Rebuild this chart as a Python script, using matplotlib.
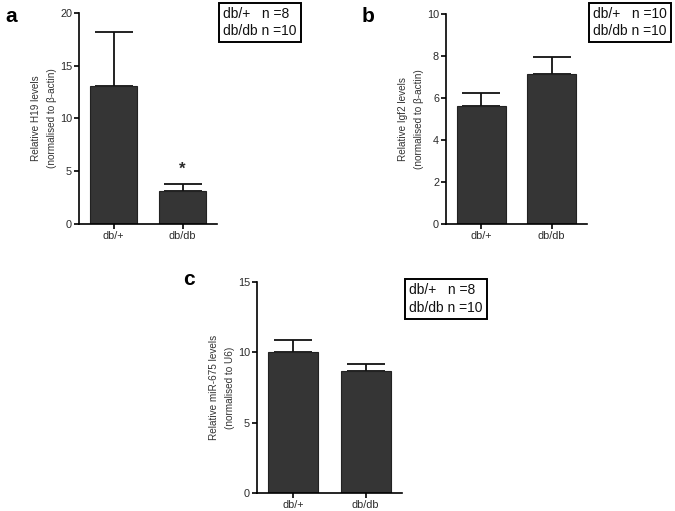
import numpy as np
import matplotlib
matplotlib.use("Agg")
from matplotlib import pyplot as plt

plt.rcParams['font.family'] = ['Liberation Sans', 'DejaVu Sans']

# DATA
groups = ['db/+', 'db/db']

h19_mean = [13.1, 3.1]
h19_sem = [5.1, 0.65]

igf2_mean = [5.6, 7.15]
igf2_sem = [0.65, 0.8]

mir675_mean = [10.0, 8.7]
mir675_sem = [0.9, 0.45]

BAR_COLOR = '#353535'
TEXT_COLOR = '#2a2a2a'


def bar_panel(ax, means, errs, ymax, ystep, ylabel):
    x = np.arange(len(means))
    ax.bar(x, means, width=0.69, color=BAR_COLOR, edgecolor='#222222', linewidth=0.8, zorder=2)
    # only the upper half of the error bars is drawn
    ax.errorbar(x, means, yerr=[np.zeros(len(errs)), errs], fmt='none',
                ecolor='#111111', elinewidth=1.3, capsize=13.5, capthick=1.3, zorder=1)
    ax.set_xlim(-0.5, 1.5)
    ax.set_ylim(0, ymax)
    ax.set_yticks(np.arange(0, ymax + 0.01, ystep))
    ax.set_xticks(x)
    ax.set_xticklabels(groups)
    ax.spines['top'].set_visible(False)
    ax.spines['right'].set_visible(False)
    for s in ('left', 'bottom'):
        ax.spines[s].set_linewidth(1.2)
    ax.tick_params(axis='both', labelsize=7.8, labelcolor=TEXT_COLOR, width=1.2, length=3.5, pad=1.5)
    ax.set_ylabel(ylabel, fontsize=7.2, color='#333333', linespacing=1.75, labelpad=2)


fig = plt.figure(figsize=(6.75, 5.11), dpi=100)
W, H = 675.0, 511.0


def add_axes(left, right, top, bottom):
    return fig.add_axes([left / W, 1 - bottom / H, (right - left) / W, (bottom - top) / H])


ax_a = add_axes(79, 217, 13, 224)
bar_panel(ax_a, h19_mean, h19_sem, 20, 5,
          'Relative H19 levels\n(normalised to \u03b2-actin)')
ax_a.text(1, h19_mean[1] + h19_sem[1] + 0.7, '*', ha='center', va='bottom',
          fontsize=12, fontweight='bold', color=TEXT_COLOR)

ax_b = add_axes(446, 587, 14, 224)
bar_panel(ax_b, igf2_mean, igf2_sem, 10, 2,
          'Relative Igf2 levels\n(normalised to \u03b2-actin)')

ax_c = add_axes(257, 402, 282, 493)
bar_panel(ax_c, mir675_mean, mir675_sem, 15, 5,
          'Relative miR-675 levels\n(normalised to U6)')

# panel letters
fig.text(5 / W, 1 - 22 / H, 'a', fontsize=15, fontweight='bold')
fig.text(362 / W, 1 - 22 / H, 'b', fontsize=15, fontweight='bold')
fig.text(183 / W, 1 - 285 / H, 'c', fontsize=15, fontweight='bold')

# n boxes
box = dict(boxstyle='square,pad=0.3', facecolor='white', edgecolor='black', linewidth=1.4)
legend_kw = dict(fontsize=10, va='center', linespacing=1.3, bbox=box, color='#111111')
fig.text(223 / W, 1 - 22.5 / H, 'db/+   n =8\ndb/db n =10', **legend_kw)
fig.text(593 / W, 1 - 22.5 / H, 'db/+   n =10\ndb/db n =10', **legend_kw)
fig.text(409 / W, 1 - 299 / H, 'db/+   n =8\ndb/db n =10', **legend_kw)

fig.savefig('out.png', dpi=100)
